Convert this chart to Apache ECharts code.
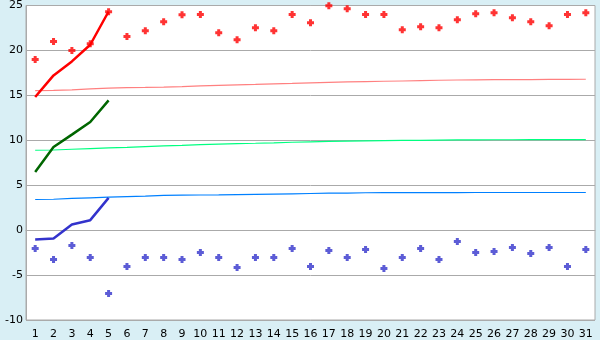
<!DOCTYPE html>
<html><head><meta charset="utf-8">
<script src="https://cdn.jsdelivr.net/npm/echarts@6/dist/echarts.min.js"></script>
<style>html,body{margin:0;padding:0;background:#d9eff5;}#c{width:600px;height:340px;}</style>
</head><body><div id="c"></div>
<script>
var days = [];
for (var i = 1; i <= 31; i++) days.push(String(i));
var yTicks = [-10, -5, 0, 5, 10, 15, 20, 25];

var redPoints = [19, 21, 20, 20.74, 24.3, 21.56, 22.19, 23.19, 23.96, 24, 21.96, 21.19, 22.52, 22.19, 24, 23.07, 24.96, 24.63, 24, 24, 22.3, 22.63, 22.52, 23.41, 24.07, 24.19, 23.63, 23.19, 22.74, 24, 24.19];
var bluePoints = [-2.04, -3.26, -1.7, -3.04, -7.04, -4.04, -3.04, -3.04, -3.26, -2.48, -3.04, -4.15, -3.04, -3.04, -2.04, -4.04, -2.26, -3.04, -2.15, -4.26, -3.04, -2.04, -3.26, -1.26, -2.48, -2.37, -1.93, -2.59, -1.93, -4.04, -2.15];
var redLine = [14.81, 17.22, 18.78, 20.63, 24.33];
var greenLine = [6.48, 9.25, 10.63, 12.04, 14.44];
var blueLine = [-1.04, -0.93, 0.63, 1.11, 3.59];
var pinkTrend = [15.52, 15.55, 15.62, 15.72, 15.8, 15.85, 15.88, 15.92, 15.97, 16.05, 16.12, 16.17, 16.22, 16.28, 16.33, 16.39, 16.44, 16.49, 16.53, 16.57, 16.6, 16.64, 16.68, 16.71, 16.73, 16.74, 16.75, 16.76, 16.77, 16.78, 16.79];
var greenTrend = [8.89, 8.92, 9.0, 9.08, 9.16, 9.22, 9.3, 9.38, 9.44, 9.51, 9.58, 9.63, 9.67, 9.72, 9.78, 9.82, 9.87, 9.91, 9.94, 9.97, 9.99, 10.0, 10.02, 10.04, 10.05, 10.06, 10.06, 10.07, 10.07, 10.08, 10.08];
var blueTrend = [3.41, 3.44, 3.53, 3.6, 3.67, 3.72, 3.78, 3.86, 3.89, 3.91, 3.93, 3.96, 3.98, 4.01, 4.04, 4.08, 4.11, 4.13, 4.16, 4.17, 4.17, 4.18, 4.18, 4.18, 4.19, 4.19, 4.19, 4.19, 4.19, 4.19, 4.19];

var plus = 'path://M2,0h3v2h2v3h-2v2h-3v-2h-2v-3h2z';
var font = 'DejaVu Sans';
function thin(data, color) {
  return {type: 'line', data: data, symbol: 'none', lineStyle: {color: color, width: 1.2}, z: 2};
}
function thick(data, color) {
  return {type: 'line', data: data, symbol: 'none', lineStyle: {color: color, width: 2.5}, z: 3};
}
function pts(data, color) {
  return {type: 'scatter', data: data, symbol: plus, symbolSize: 7, itemStyle: {color: color}, z: 4};
}
var chart = echarts.init(document.getElementById('c'));
chart.setOption({
  animation: false,
  backgroundColor: '#d9eff5',
  grid: {left: 26, right: 5, top: 5, bottom: 20, show: true, backgroundColor: '#ffffff', borderColor: '#aaaaaa', borderWidth: 1},
  xAxis: {
    type: 'category', data: days, boundaryGap: true,
    axisLine: {lineStyle: {color: '#aaaaaa'}},
    axisTick: {alignWithLabel: true, length: 6, lineStyle: {color: '#333333'}},
    axisLabel: {color: '#000', fontFamily: font, fontSize: 11, margin: 9, interval: 0},
    splitLine: {show: false}
  },
  yAxis: {
    type: 'value', min: yTicks[0], max: yTicks[yTicks.length - 1], interval: 5,
    axisLine: {show: true, lineStyle: {color: '#aaaaaa'}},
    axisTick: {show: false},
    axisLabel: {color: '#000', fontFamily: font, fontSize: 11, margin: 3},
    splitLine: {lineStyle: {color: '#aaaaaa', width: 1}}
  },
  series: [
    thin(pinkTrend, '#ff8080'),
    thin(greenTrend, '#00ff80'),
    thin(blueTrend, '#0080ff'),
    thick(redLine, '#ff0000'),
    thick(greenLine, '#006600'),
    thick(blueLine, '#3333cc'),
    pts(redPoints, '#ff0000'),
    pts(bluePoints, '#3333cc')
  ]
});
</script>
</body></html>
